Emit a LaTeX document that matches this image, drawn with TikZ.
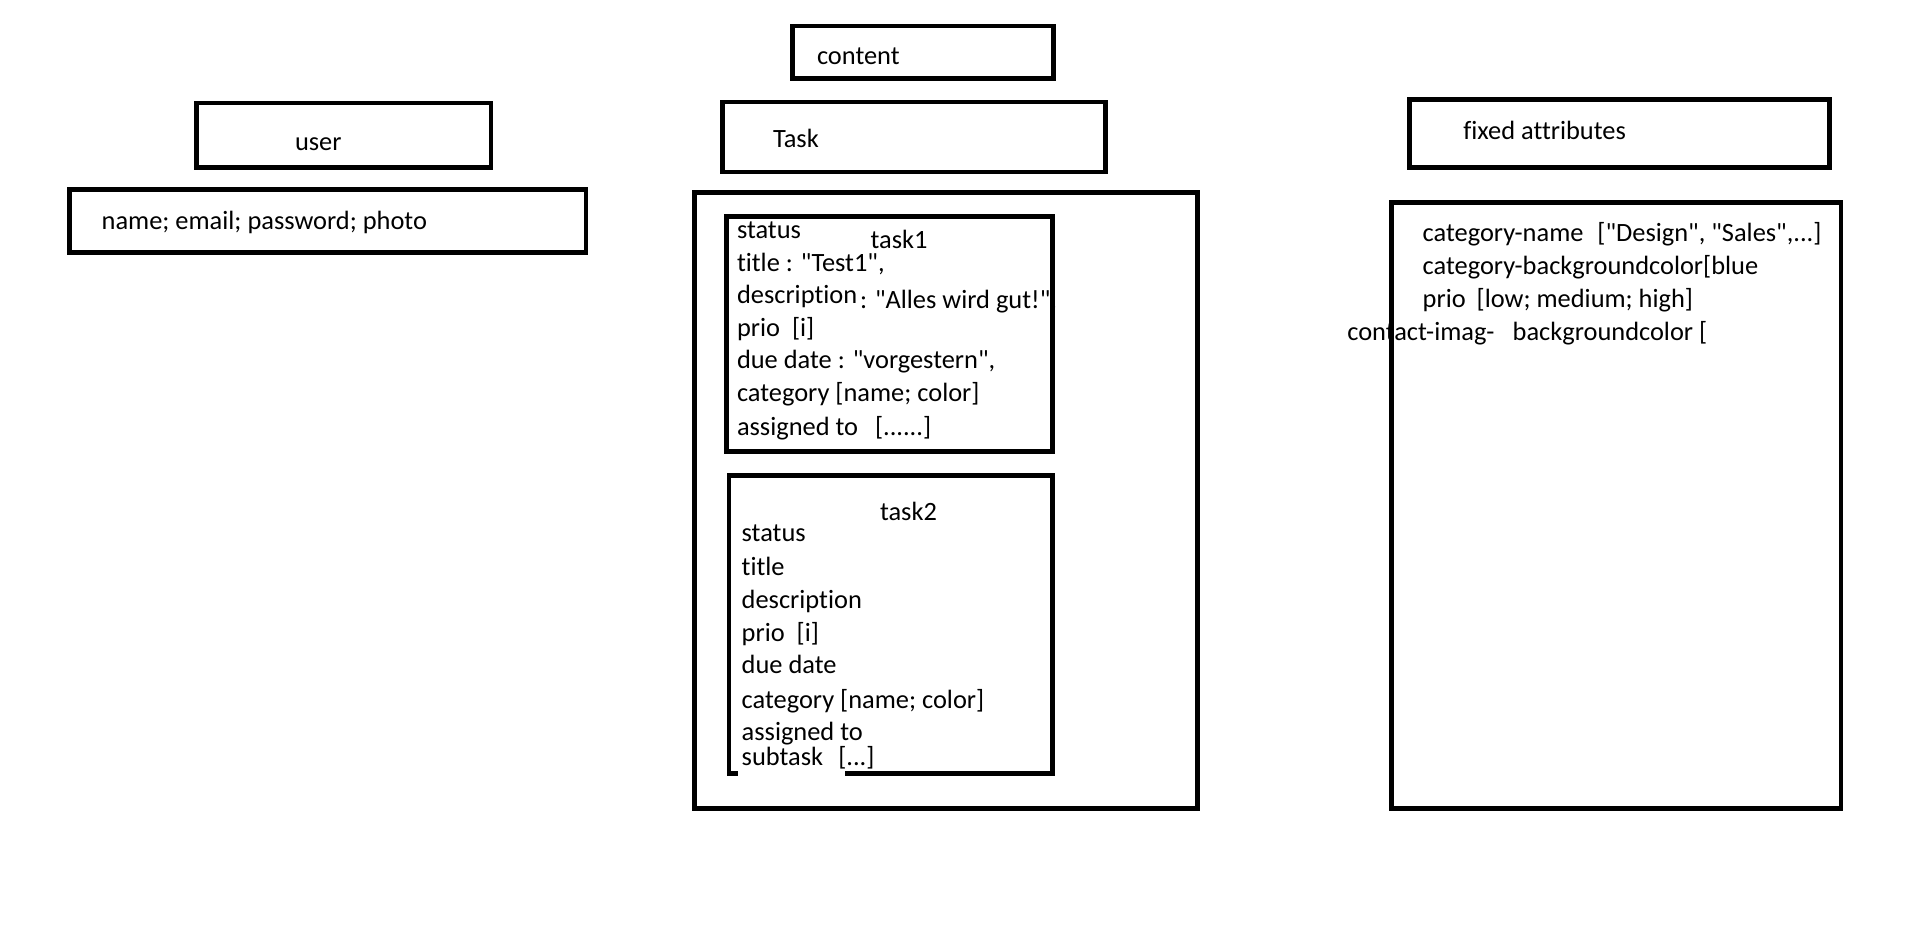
\documentclass[tikz,border=0pt]{standalone}
\usepackage{fontspec}
\setmainfont{Carlito}[Ligatures={TeXOff,CommonOff}]
\begin{document}
\tikzset{
  box/.style={line width=4.6pt, line join=miter},
  txt/.style={anchor=base west, inner sep=0pt, outer sep=0pt, font=\fontsize{26.4}{33}\selectfont},
}
\begin{tikzpicture}[x=1pt,y=-1pt]
\useasboundingbox[fill=white] (0,0) rectangle (1914,931);

% ---------- content ----------
\node[txt] (content) at (817,65) {content};
\draw[box] (792.5,26) rectangle (1053.5,78.5);

% ---------- user ----------
\node[txt] (user) at (295,150) {user};
\draw[box] (196.3,103) rectangle (491,167.7);
\node[txt] (userattr) at (101.7,229.3) {name; email; password; photo};
\draw[box] (69.7,189.7) rectangle (586,252.7);

% ---------- Task ----------
\node[txt] (task) at (773,147) {Task};
\draw[box] (722.5,102) rectangle (1105.5,172);
\draw[box] (694.5,192.5) rectangle (1197.5,808.5);

% task1
\node[txt] (t1status) at (737,238.3) {status};
\node[txt] (t1name) at (870.7,248.3) {task1};
\node[txt] (t1title) at (737,271.7) {title : "Test1",};
\node[txt] (t1desc) at (737,303.3) {description};
\node[txt] (t1prio) at (737,336.7) {prio\hspace{12pt}[i]};
\node[txt] (t1due) at (737,368.3) {due date : "vorgestern",};
\node[txt] (t1cat) at (737,401.7) {category [name; color]};
\node[txt] (t1ass) at (737,435) {assigned to};
\node[txt] (t1assval) at (875,435) {[......]};
\draw[box] (726.7,216.7) rectangle (1052.3,451.7);
\node[txt] (t1descval) at (860,308.3) {: "Alles wird gut!",};

% task2
\node[txt] (t2name) at (880,520) {task2};
\node[txt] (t2status) at (741.7,541.7) {status};
\node[txt] (t2title) at (741.7,575) {title};
\node[txt] (t2desc) at (741.7,608) {description};
\node[txt] (t2prio) at (741.7,641.7) {prio\hspace{12pt}[i]};
\node[txt] (t2due) at (741.7,673.3) {due date};
\node[txt] (t2cat) at (741.7,708.3) {category [name; color]};
\node[txt] (t2ass) at (741.7,740) {assigned to};
\node[txt] (t2sub) at (741.7,765) {subtask};
\node[txt] (t2subval) at (838.3,765) {[...]};
\draw[box] (737.9,773.5) -- (729,773.5) -- (729,475.7) -- (1052.7,475.7) -- (1052.7,773.5) -- (845.3,773.5);

% ---------- fixed attributes ----------
\node[txt] (fixed) at (1463.3,139.3) {fixed attributes};
\draw[box] (1409.7,99.7) rectangle (1829.3,167.7);

\node[txt] (fcat) at (1422.7,241.7) {category-name\hspace{14pt}["Design", "Sales",...]};
\node[txt] (fbg) at (1422.7,274) {category-backgroundcolor[blue};
\node[txt] (fprio) at (1422.7,307.5) {prio\hspace{11pt}[low; medium; high]};
\node[txt] (fcontact) at (1347.3,340) {contact-imag-};
\node[txt] (fcontactbg) at (1512.7,340) {backgroundcolor [};
\draw[box] (1391.5,202.3) rectangle (1841,808.3);
\end{tikzpicture}
\end{document}
